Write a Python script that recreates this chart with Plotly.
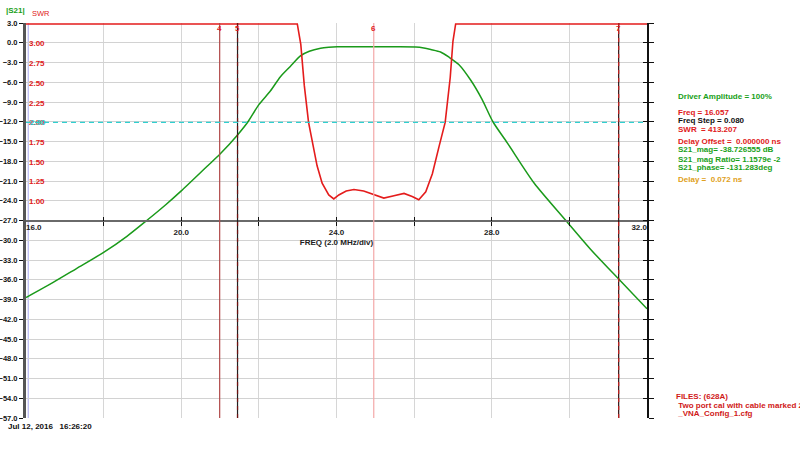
import plotly.graph_objects as go

# ---------------- data ----------------
freq_s21 = [16.0, 16.70, 17.3, 18.0, 18.6, 19.11, 19.6, 20.0, 20.66, 21.0, 21.45, 21.72, 22.0,
            22.3, 22.55, 22.81, 23.07, 23.3, 23.59, 23.8, 24.02, 24.5, 25.0, 25.5, 26.04,
            26.25, 26.43, 26.68, 26.9, 27.15, 27.46, 27.75, 28.03, 28.4, 29.09, 29.91,
            30.55, 31.27, 32.0]
s21_db = [-38.7, -36.4, -34.3, -31.85, -29.4, -27.0, -24.6, -22.5, -18.8, -16.9, -14.0, -12.0, -9.4,
          -7.3, -5.2, -3.6, -2.0, -1.3, -0.85, -0.7, -0.62, -0.6, -0.6, -0.62, -0.65,
          -0.8, -1.03, -1.4, -2.2, -3.3, -5.7, -8.6, -12.0, -15.2, -21.3, -27.0,
          -31.4, -35.9, -40.4]

freq_swr = [16.0, 22.99, 23.08, 23.17, 23.28, 23.42, 23.50, 23.63, 23.80, 23.93, 24.06, 24.25,
            24.45, 24.70, 24.96, 25.22, 25.48, 25.74, 25.95, 26.12, 26.30, 26.47, 26.64,
            26.80, 26.93, 27.00, 27.07, 32.0]
swr = [3.25, 3.25, 2.99, 2.47, 2.00, 1.62, 1.45, 1.23, 1.08, 1.03, 1.08, 1.13,
       1.15, 1.13, 1.08, 1.04, 1.07, 1.10, 1.06, 1.02, 1.12, 1.35, 1.69,
       2.00, 2.57, 3.03, 3.25, 3.25]

marker_freqs = [20.99, 21.45, 24.96, 31.27]
marker_names = ["4", "5", "6", "7"]
marker_colors = ["#b04848", "#202020", "#f4a8a8", "#301010"]
cursor_freq = 16.057
swr_reference = 2.00

freq_ticks = [16, 18, 20, 22, 24, 26, 28, 30, 32]
freq_ticktext = ["", "", "20.0", "", "24.0", "", "28.0", "", ""]
freq_first, freq_first_text = 16, "16.0"
freq_last, freq_last_text = 32, "32.0"
db_ticks = [3, 0, -3, -6, -9, -12, -15, -18, -21, -24, -27, -30, -33, -36, -39,
            -42, -45, -48, -51, -54, -57]
swr_ticks = [1.00, 1.25, 1.50, 1.75, 2.00, 2.25, 2.50, 2.75, 3.00, 3.25]

info_lines = [
    ("Driver Amplitude = 100%", "#18a018"),
    ("Freq = 16.057", "#e02020"),
    ("Freq Step = 0.080", "#101010"),
    ("SWR  = 413.207", "#e02020"),
    ("Delay Offset =  0.000000 ns", "#e02020"),
    ("S21_mag= -38.726555 dB", "#18a018"),
    ("S21_mag Ratio= 1.1579e -2", "#18a018"),
    ("S21_phase= -131.283deg", "#18a018"),
    ("Delay =  0.072 ns", "#e0a020"),
]
info_y = [0.813, 0.7735, 0.7523, 0.7313, 0.701, 0.6793, 0.6555, 0.6345, 0.6042]
file_lines = ["FILES: (628A)", " Two port cal with cable marked 29APR", " _VNA_Config_1.cfg"]
file_y = [0.0546, 0.0329, 0.0126]
timestamp = "Jul 12, 2016   16:26:20"

FONT = "Liberation Sans, Arial, sans-serif"

fig = go.Figure()

fig.add_trace(go.Scatter(x=freq_s21, y=s21_db, mode="lines", yaxis="y",
                         line=dict(color="#1a9a1a", width=1.5, shape="spline", smoothing=0.7),
                         showlegend=False, hoverinfo="skip"))
fig.add_trace(go.Scatter(x=freq_swr, y=swr, mode="lines", yaxis="y2",
                         line=dict(color="#e41c1c", width=1.6), showlegend=False,
                         hoverinfo="skip"))

shapes = []
shapes.append(dict(type="line", xref="x", yref="paper", x0=cursor_freq, x1=cursor_freq,
                   y0=0, y1=1, line=dict(color="#a8a8ee", width=1), layer="below"))
for f, c in zip(marker_freqs, marker_colors):
    shapes.append(dict(type="line", xref="x", yref="paper", x0=f, x1=f, y0=0, y1=1,
                       line=dict(color=c, width=1.2)))
for f, c in [(marker_freqs[1], "#701010"), (marker_freqs[3], "#c02020")]:
    shapes.append(dict(type="line", xref="x", yref="paper", x0=f, x1=f, y0=0, y1=1,
                       line=dict(color=c, width=1.2, dash="4px,4px")))
shapes.append(dict(type="line", xref="paper", yref="y2", x0=0, x1=1,
                   y0=swr_reference, y1=swr_reference,
                   line=dict(color="#30d0d0", width=1.2, dash="5px,4px")))

annotations = []
for f, n in zip(marker_freqs, marker_names):
    annotations.append(dict(x=f, xref="x", y=0.986, yref="paper", text=n, showarrow=False,
                            font=dict(family=FONT, size=8, color="#e02020", weight="bold"),
                            xanchor="center", yanchor="middle"))
for (t, c), yy in zip(info_lines, info_y):
    annotations.append(dict(x=1.0467, xref="paper", y=yy, yref="paper", text=t,
                            showarrow=False, xanchor="left", yanchor="middle",
                            font=dict(family=FONT, size=8, color=c, weight="bold")))
for t, yy in zip(file_lines, file_y):
    annotations.append(dict(x=1.0435, xref="paper", y=yy, yref="paper", text=t,
                            showarrow=False, xanchor="left", yanchor="middle",
                            font=dict(family=FONT, size=8, color="#d01818", weight="bold")))
annotations.append(dict(x=-0.0322, xref="paper", y=-0.0215, yref="paper", text=timestamp,
                        showarrow=False, xanchor="left", yanchor="middle",
                        font=dict(family=FONT, size=8, color="#101010", weight="bold")))
annotations.append(dict(x=-0.0354, xref="paper", y=1.032, yref="paper", text="|S21|",
                        showarrow=False, xanchor="left", yanchor="middle",
                        font=dict(family=FONT, size=8, color="#18a018", weight="bold")))
annotations.append(dict(x=0.006, xref="paper", y=1.0245, yref="paper", text="SWR",
                        showarrow=False, xanchor="left", yanchor="middle",
                        font=dict(family=FONT, size=7.5, color="#e02020")))
annotations.append(dict(x=0.0, xref="paper", y=swr_reference, yref="y2", text="2.00",
                        showarrow=False, xanchor="left", yanchor="middle", xshift=2,
                        font=dict(family=FONT, size=8, color="#30c8c8", weight="bold")))

tickfont = dict(family=FONT, size=8, color="#222", weight="bold")
common_x = dict(range=[16, 32], anchor="free", position=0.5, automargin=False,
                showgrid=False, showline=False, zeroline=False)

fig.update_layout(
    width=800, height=453,
    margin=dict(l=26, r=153, t=23, b=34.5, autoexpand=False),
    paper_bgcolor="white", plot_bgcolor="white",
    font=dict(family=FONT, size=8, color="#111"),
    shapes=shapes, annotations=annotations,
    xaxis=dict(range=[16, 32], anchor="free", position=0.5, tickvals=freq_ticks,
               ticktext=freq_ticktext, ticks="outside", ticklen=4, tickcolor="#111",
               showline=True, linecolor="#6a6a6a", linewidth=2, automargin=False,
               showgrid=True, gridcolor="#d6d6d6", gridwidth=1, zeroline=False,
               tickfont=tickfont,
               title=dict(text="FREQ (2.0 MHz/div)", standoff=2,
                          font=dict(family=FONT, size=8, color="#222", weight="bold"))),
    xaxis2=dict(overlaying="x", tickvals=freq_ticks, ticks="inside", ticklen=4,
                tickcolor="#111", showticklabels=False, **common_x),
    xaxis3=dict(overlaying="x", tickvals=[freq_first], ticktext=[freq_first_text],
                ticks="", ticklabelposition="outside right", ticklabeloverflow="allow",
                tickfont=tickfont, **common_x),
    xaxis4=dict(overlaying="x", tickvals=[freq_last], ticktext=[freq_last_text],
                ticks="", ticklabelposition="outside left", ticklabeloverflow="allow",
                tickfont=tickfont, **common_x),
    yaxis=dict(range=[-57, 3], tickvals=db_ticks, tickformat=".1f", ticks="outside",
               ticklen=4, tickcolor="#111", showline=True, linecolor="#555555",
               linewidth=3, showgrid=True, gridcolor="#d2d2d2", gridwidth=1,
               zeroline=False, automargin=False,
               tickfont=dict(family=FONT, size=7.5, color="#111", weight="bold")),
    yaxis2=dict(range=[-1.75, 3.262], overlaying="y", side="left", anchor="x",
                tickvals=swr_ticks, tickformat=".2f", ticklabelposition="inside",
                ticks="", showgrid=False, showline=False, zeroline=False, automargin=False,
                tickfont=dict(family=FONT, size=8, color="#e02020", weight="bold")),
    yaxis3=dict(range=[-57, 3], overlaying="y", side="right", anchor="x",
                tickvals=db_ticks, ticks="outside", ticklen=5, tickcolor="#111",
                showticklabels=False, showgrid=False, showline=True, linecolor="#111",
                linewidth=2, zeroline=False, automargin=False),
    yaxis4=dict(range=[-57, 3], overlaying="y", side="right", anchor="x",
                tickvals=db_ticks, ticks="inside", ticklen=4, tickcolor="#111",
                showticklabels=False, showgrid=False, showline=False, zeroline=False,
                automargin=False),
)

# invisible helper traces so the overlay axes are drawn
for xa, ya in [("x", "y3"), ("x2", "y4"), ("x3", "y"), ("x4", "y")]:
    fig.add_trace(go.Scatter(x=[cursor_freq], y=[db_ticks[0]], xaxis=xa, yaxis=ya,
                             mode="markers", marker=dict(opacity=0), showlegend=False,
                             hoverinfo="skip"))

# remove the browser's default 8px body margin so the figure fills the window
fig.write_html("out.html", config={"displayModeBar": False},
               post_script="document.body.style.margin='0';document.body.style.overflow='hidden';")
